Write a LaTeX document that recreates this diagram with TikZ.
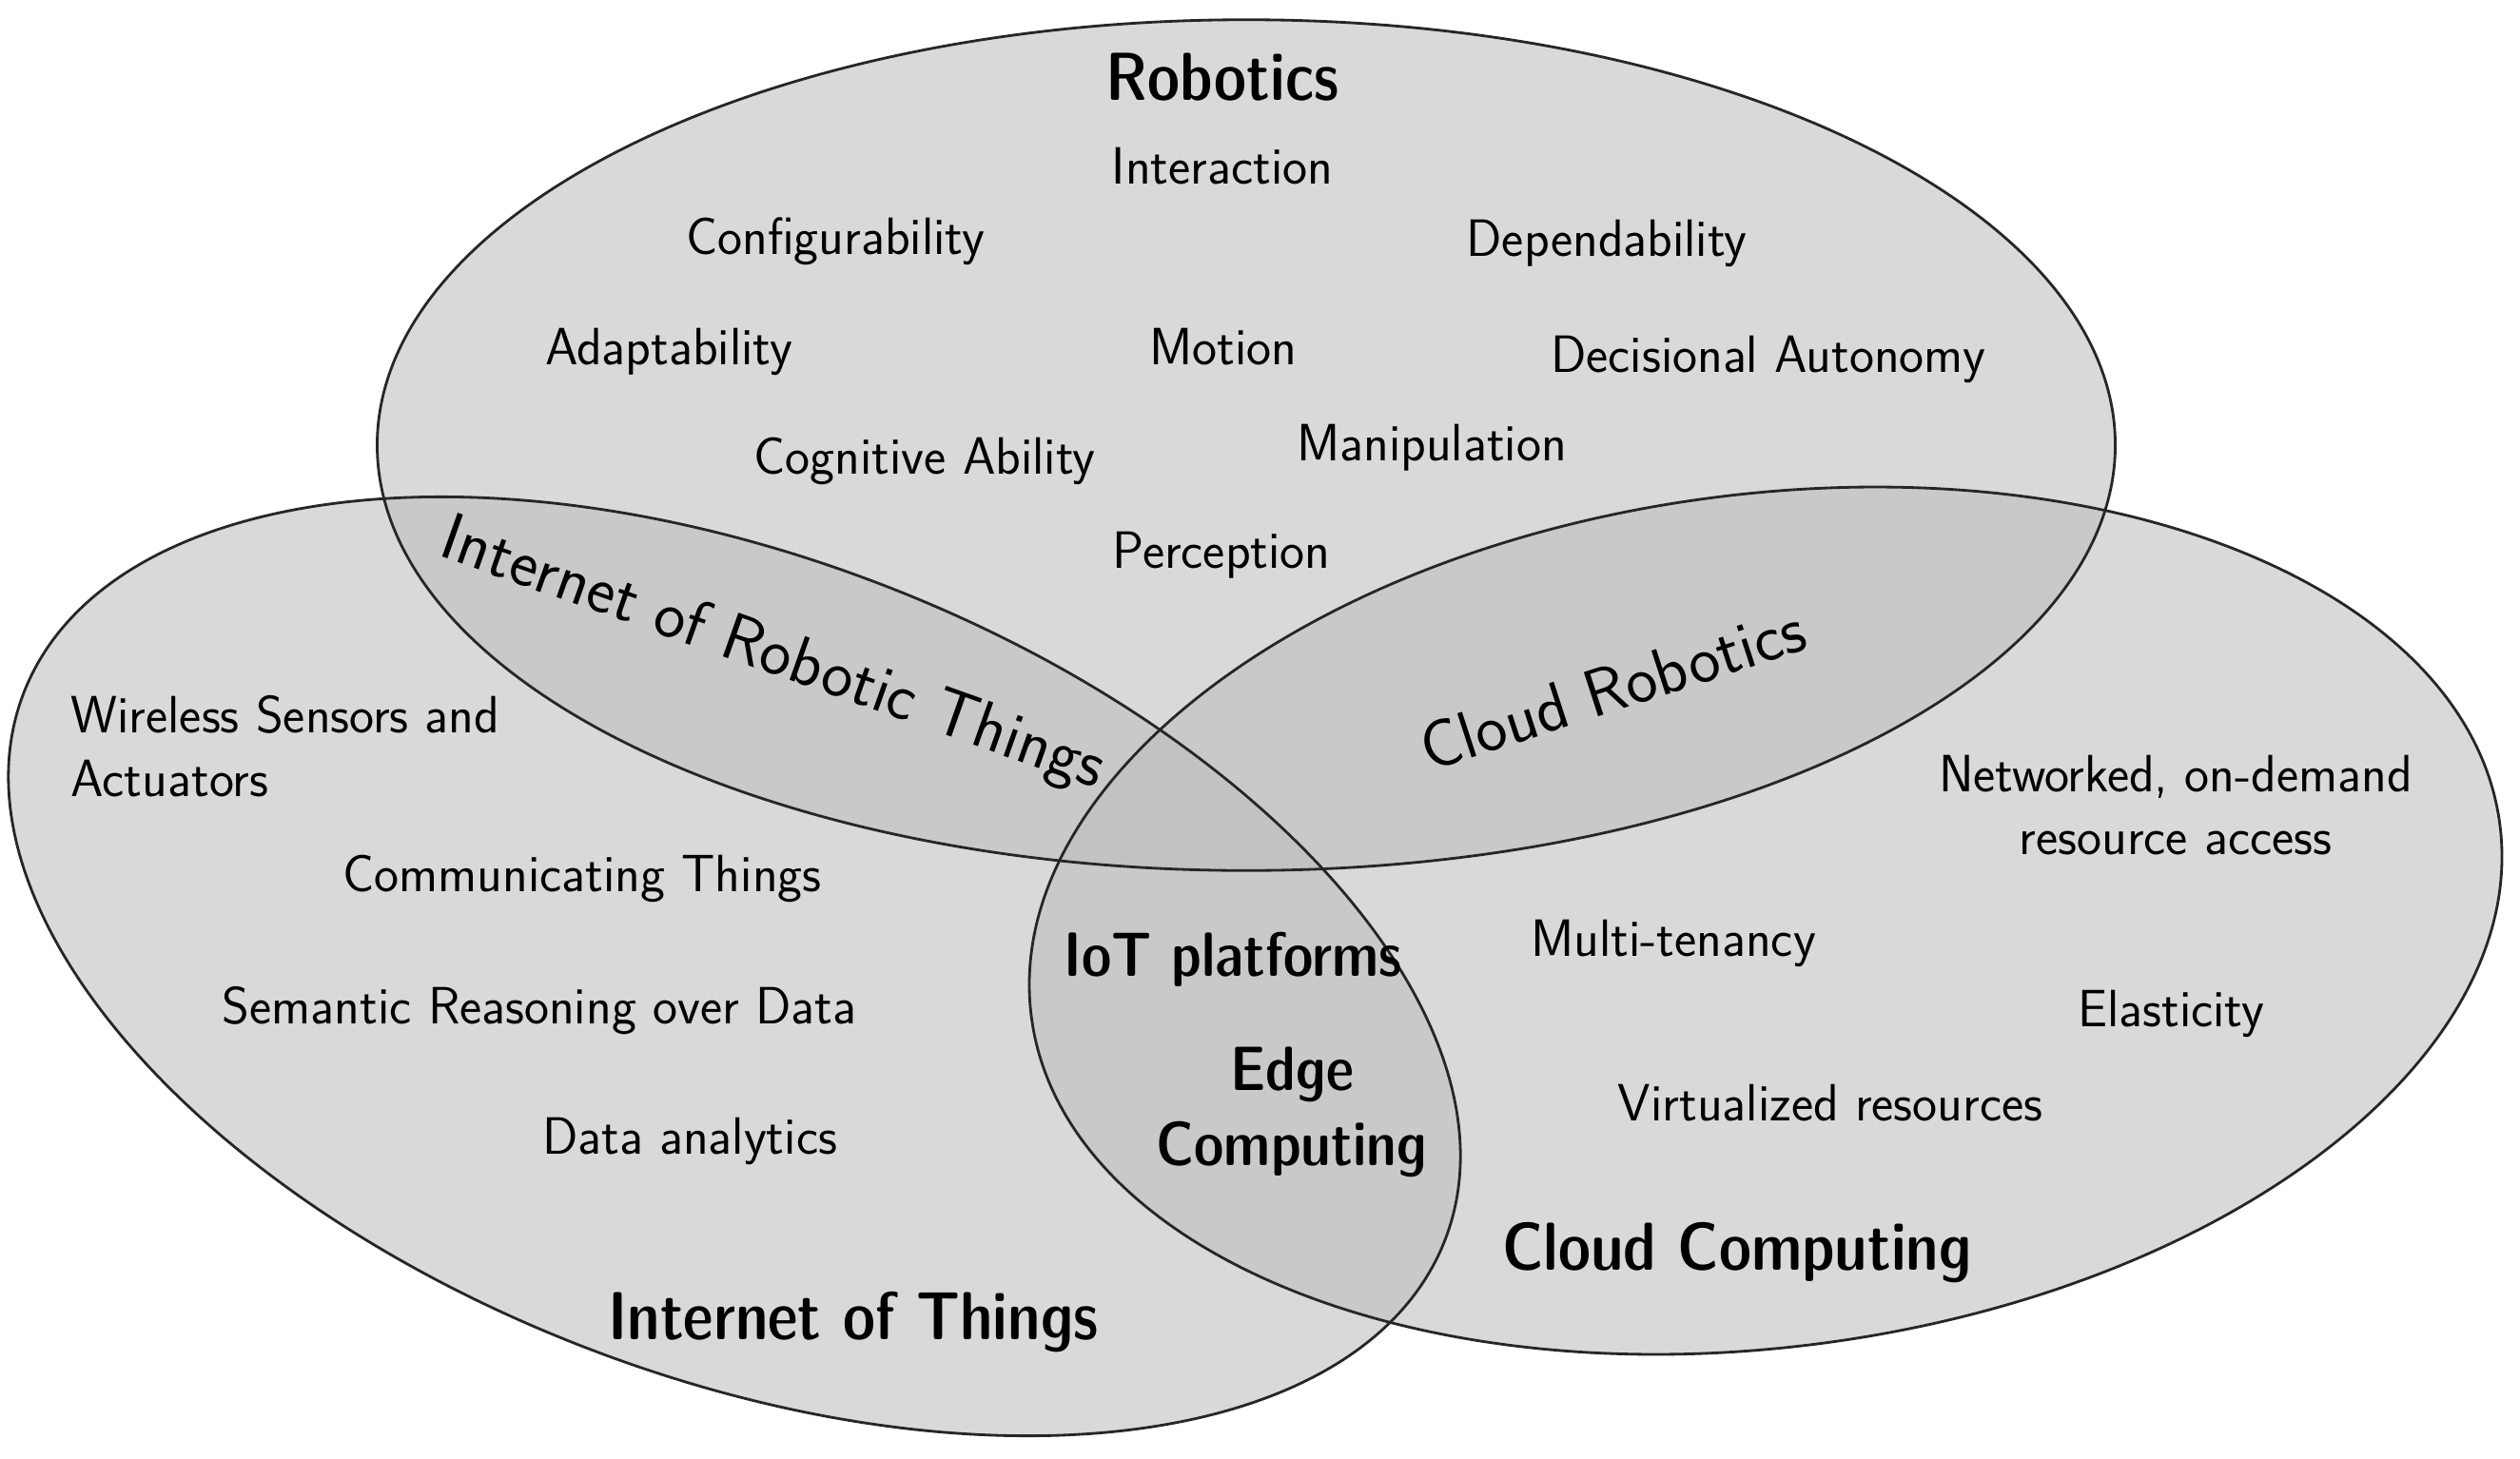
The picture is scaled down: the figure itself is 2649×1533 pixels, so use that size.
\documentclass[tikz,border=0pt]{standalone}
\tikzset{
  setfill/.style={fill=black!26, fill opacity=0.56},
  setline/.style={draw=black!85, line width=0.8pt},
  lbl/.style={font=\sffamily\fontsize{15.7}{19}\selectfont, text height=11pt, text depth=3.1pt, inner sep=0pt},
  ttl/.style={font=\sffamily\fontseries{sbc}\fontsize{20.3}{24}\selectfont, text height=14.2pt, text depth=4pt, inner sep=0pt},
  ctl/.style={font=\sffamily\fontseries{sbc}\fontsize{18.7}{22}\selectfont, text height=13.1pt, text depth=3.7pt, inner sep=0pt},
  big/.style={font=\sffamily\fontsize{20}{24}\selectfont, text height=14pt, text depth=4pt, inner sep=0pt},
}
\begin{document}
\begin{tikzpicture}[x=0.01cm,y=-0.01cm]
\useasboundingbox[fill=white] (0,0) rectangle (2649,1533);
% fills
\path[setfill] (1310,468) ellipse [x radius=9.13cm, y radius=4.47cm];
\path[setfill, rotate around={-21:(772,1016)}] (772,1016) ellipse [x radius=8.0cm, y radius=4.3cm];
\path[setfill, rotate around={7.5:(1856,968)}] (1856,968) ellipse [x radius=7.78cm, y radius=4.48cm];
% outlines
\draw[setline] (1310,468) ellipse [x radius=9.13cm, y radius=4.47cm];
\draw[setline, rotate around={-21:(772,1016)}] (772,1016) ellipse [x radius=8.0cm, y radius=4.3cm];
\draw[setline, rotate around={7.5:(1856,968)}] (1856,968) ellipse [x radius=7.78cm, y radius=4.48cm];
% Robotics
\node[ttl] (rob) at (1285,88) {Robotics};
\node[lbl] (inter) at (1285,180) {Interaction};
\node[lbl] (conf) at (878,254) {Configurability};
\node[lbl] (dep) at (1689,256) {Dependability};
\node[lbl] (adap) at (703,370) {Adaptability};
\node[lbl] (mot) at (1286,370) {Motion};
\node[lbl] (dec) at (1859,378) {Decisional Autonomy};
\node[lbl] (cog) at (972,485) {Cognitive Ability};
\node[lbl] (man) at (1505,471) {Manipulation};
\node[lbl] (perc) at (1284,584) {Perception};
% intersections
\node[big, rotate=-19.5] (iort) at (812,690) {Internet of Robotic Things};
\node[big, rotate=18] (cr) at (1697,730) {Cloud Robotics};
% IoT
\node[lbl, anchor=west] (wsa1) at (74,757) {Wireless Sensors and};
\node[lbl, anchor=west] (wsa2) at (74,824) {Actuators};
\node[lbl] (comm) at (612,924) {Communicating Things};
\node[lbl] (sem) at (567,1063) {Semantic Reasoning over Data};
\node[lbl] (data) at (725,1200) {Data analytics};
\node[ttl] (iot) at (897,1391) {Internet of Things};
% center
\node[ctl] (plat) at (1296,1010) {IoT platforms};
\node[ctl] (edge) at (1358,1130) {Edge};
\node[ctl] (edgec) at (1358,1209) {Computing};
% Cloud
\node[lbl] (net1) at (2287,819) {Networked, on-demand};
\node[lbl] (net2) at (2287,885) {resource access};
\node[lbl] (multi) at (1759,992) {Multi-tenancy};
\node[lbl] (elas) at (2282,1066) {Elasticity};
\node[lbl] (virt) at (1924,1165) {Virtualized resources};
\node[ttl] (cc) at (1826,1318) {Cloud Computing};
\end{tikzpicture}
\end{document}
